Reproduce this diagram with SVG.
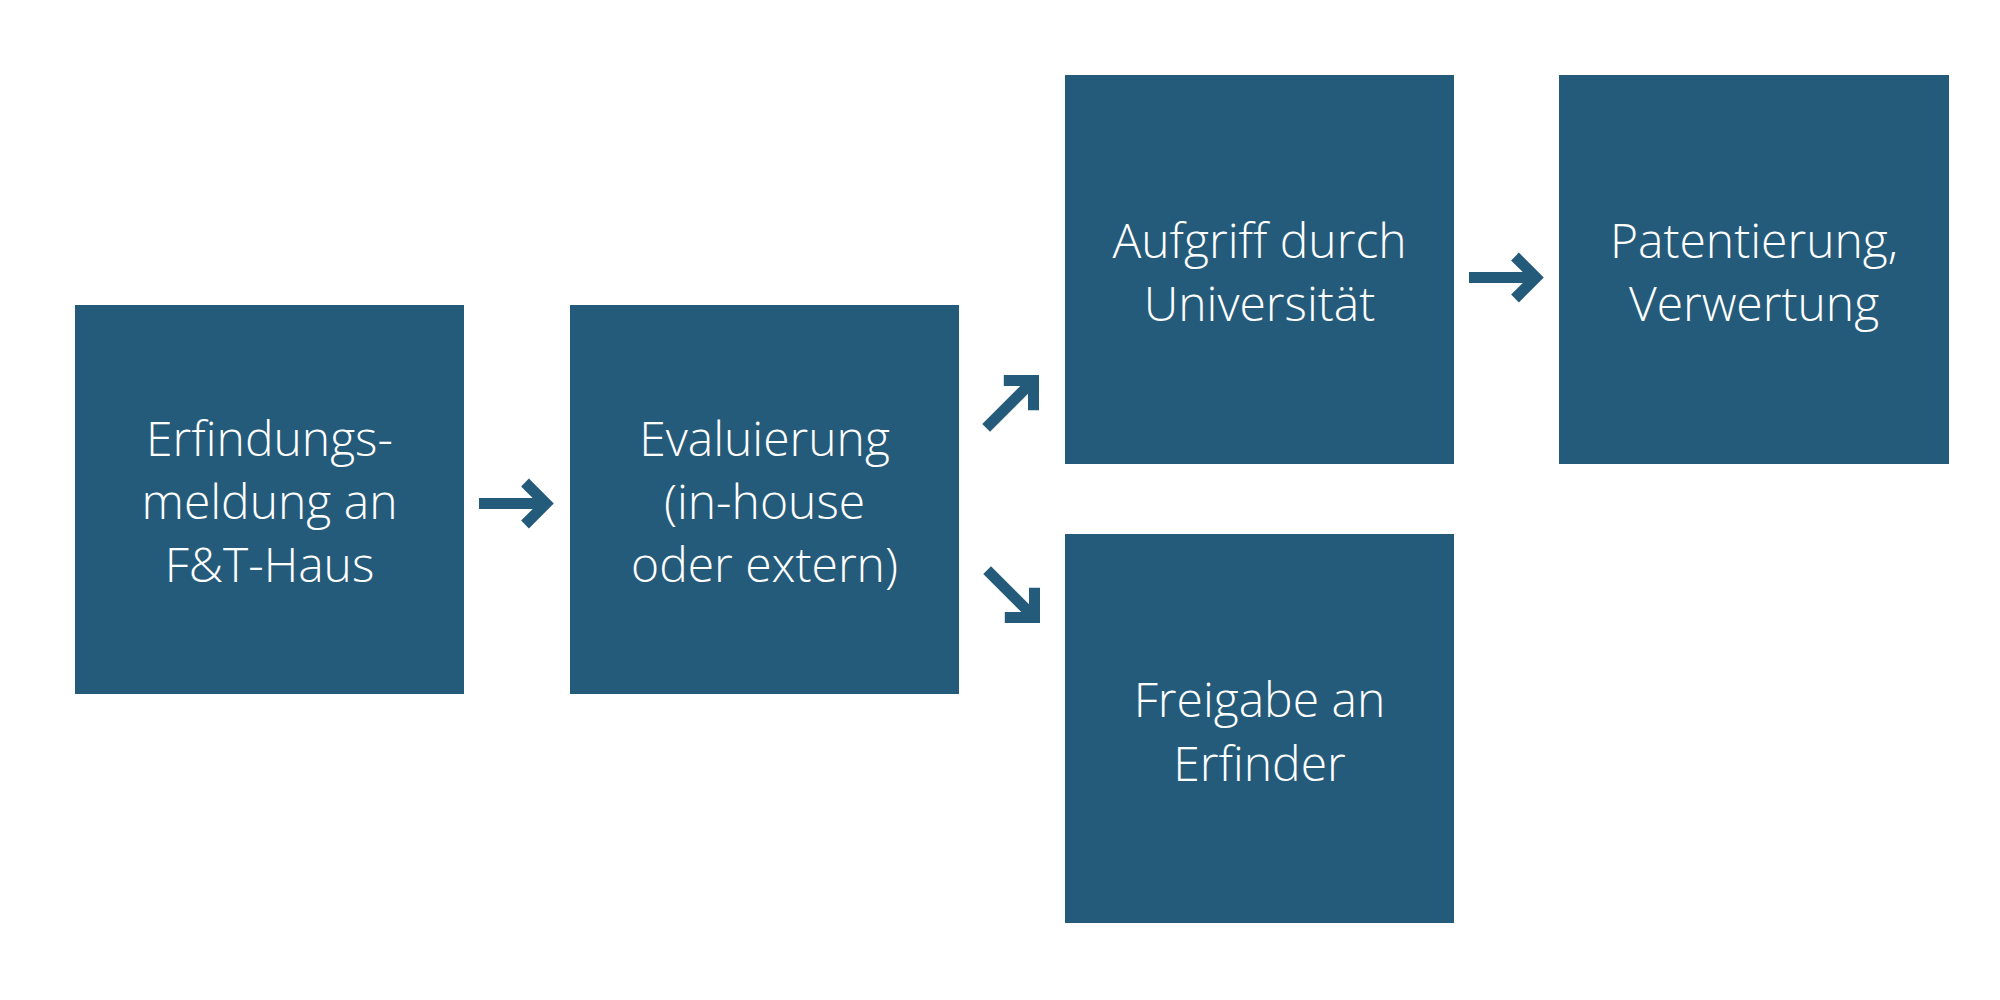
<svg xmlns="http://www.w3.org/2000/svg" width="2000" height="1000" viewBox="0 0 2000 1000">
  <style>
    .box { fill: #255B7A; }
    .lbl { fill: #FFFFFF; font-family: "Open Sans", "Liberation Sans", sans-serif; font-weight: 300; font-size: 48px; text-anchor: middle; }
    .arr { fill: none; stroke: #255B7A; stroke-width: 11; stroke-linecap: butt; stroke-linejoin: miter; stroke-miterlimit: 10; }
  </style>
  <defs>
    <g id="arrowShape">
      <line class="arr" x1="-67" y1="0" x2="-2" y2="0"/>
      <polyline class="arr" points="-21,-21 0,0 -21,21"/>
    </g>
  </defs>
  <rect width="2000" height="1000" fill="#FFFFFF"/>
  <g id="node-erfindungsmeldung">
    <rect class="box" x="75" y="305" width="389" height="389"/>
    <text class="lbl"><tspan x="269.5" y="456">Erfindungs-</tspan><tspan x="269.5" y="519">meldung an</tspan><tspan x="269.5" y="582">F&amp;T-Haus</tspan></text>
  </g>
  <g id="node-evaluierung">
    <rect class="box" x="570" y="305" width="389" height="389"/>
    <text class="lbl"><tspan x="764.5" y="456">Evaluierung</tspan><tspan x="764.5" y="519">(in-house</tspan><tspan x="764.5" y="582">oder extern)</tspan></text>
  </g>
  <g id="node-aufgriff">
    <rect class="box" x="1065" y="75" width="389" height="389"/>
    <text class="lbl"><tspan x="1259.5" y="258">Aufgriff durch</tspan><tspan x="1259.5" y="321">Universität</tspan></text>
  </g>
  <g id="node-patentierung">
    <rect class="box" x="1559" y="75" width="390" height="389"/>
    <text class="lbl"><tspan x="1754" y="258">Patentierung,</tspan><tspan x="1754" y="321">Verwertung</tspan></text>
  </g>
  <g id="node-freigabe">
    <rect class="box" x="1065" y="534" width="389" height="389"/>
    <text class="lbl"><tspan x="1259.5" y="717">Freigabe an</tspan><tspan x="1259.5" y="781">Erfinder</tspan></text>
  </g>
  <g id="connectors">
    <use href="#arrowShape" transform="translate(546,503.5)"/>
    <use href="#arrowShape" transform="translate(1033.5,380.5) rotate(-45)"/>
    <use href="#arrowShape" transform="translate(1034.5,617.5) rotate(45)"/>
    <use href="#arrowShape" transform="translate(1536,277.5)"/>
  </g>
</svg>
